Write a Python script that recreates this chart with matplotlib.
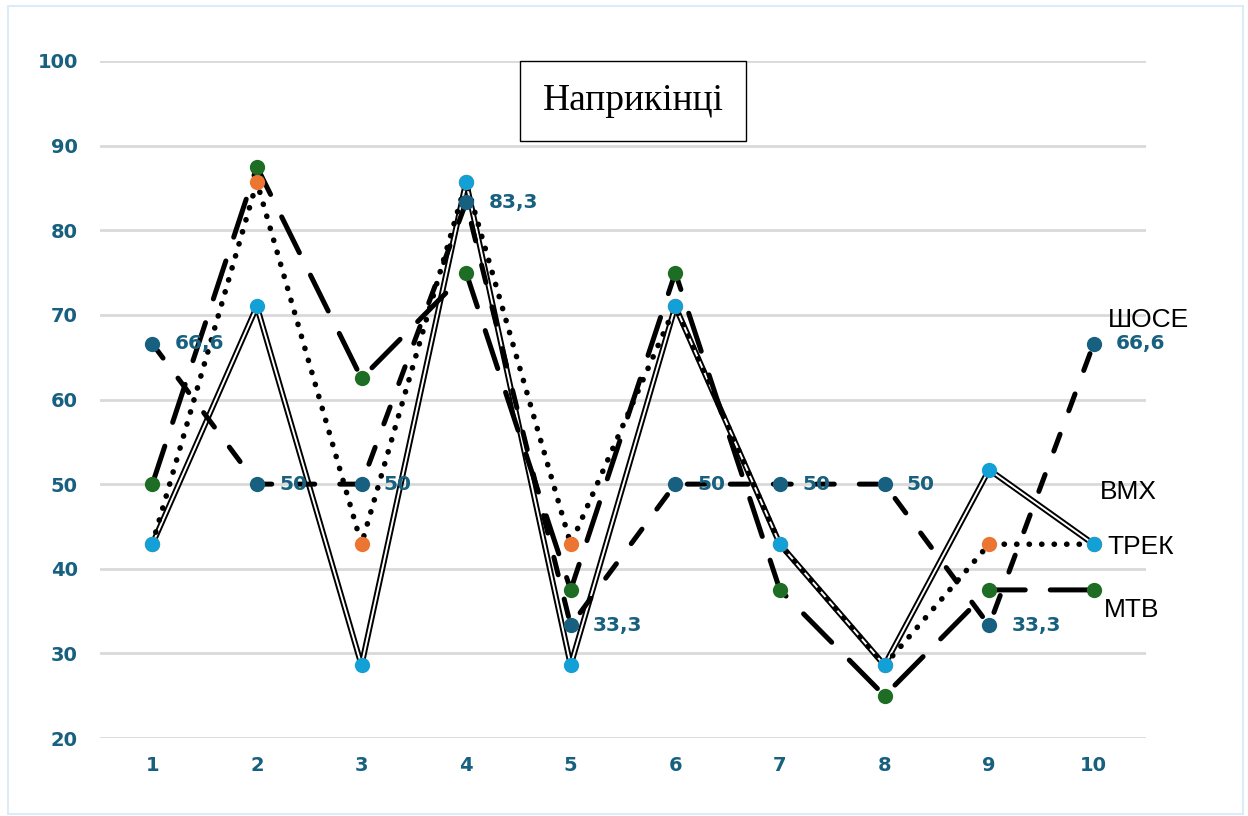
import matplotlib.pyplot as plt
from matplotlib.patches import Rectangle

# Дані з діаграми "Наприкінці"
x = [1, 2, 3, 4, 5, 6, 7, 8, 9, 10]
shose = [66.6, 50, 50, 83.3, 33.3, 50, 50, 50, 33.3, 66.6]
bmx = [42.9, 71.0, 28.6, 85.7, 28.6, 71.0, 42.9, 28.6, 51.7, 42.9]
trek = [42.9, 85.7, 42.9, 85.7, 42.9, 71.0, 42.9, 28.6, 42.9, 42.9]
mtb = [50, 87.5, 62.5, 75, 37.5, 75, 37.5, 25, 37.5, 37.5]
shose_labels = ['66,6', '50', '50', '83,3', '33,3', '50', '50', '50', '33,3', '66,6']

dark_blue = '#17607f'
light_blue = '#12a0d7'
orange = '#ec7532'
green = '#1d6d24'

fig = plt.figure(figsize=(12.48, 8.16), dpi=100)
ax = fig.add_axes([100 / 1248, 1 - 738 / 816, 1046 / 1248, 677 / 816])

# рамка навколо всієї діаграми
fig.patches.append(Rectangle((8 / 1248, 2 / 816), 1235 / 1248, 808 / 816,
                             transform=fig.transFigure, fill=False,
                             edgecolor='#dcebf5', linewidth=1.5))

ms = 11

# ВМХ - подвійна лінія
ax.plot(x, bmx, color='black', linewidth=4.2, zorder=2)
ax.plot(x, bmx, color='white', linewidth=1.4, zorder=2.1)

# ТРЕК - пунктир з крапок
ax.plot(x, trek, color='black', linewidth=4.0, linestyle=(0, (0.05, 2.2)),
        dash_capstyle='round', zorder=2.2)

# МТВ - довгі штрихи
ax.plot(x, mtb, color='black', linewidth=3.6, linestyle=(0, (8, 5)),
        dash_capstyle='round', zorder=2.3)

# ШОСЕ - штрихи
ax.plot(x, shose, color='black', linewidth=3.6, linestyle=(0, (3.6, 5)),
        dash_capstyle='round', zorder=2.4)

ax.plot(x, shose, linestyle='none', marker='o', markersize=ms, color=dark_blue,
        markeredgewidth=0, zorder=3)
ax.plot(x, mtb, linestyle='none', marker='o', markersize=ms, color=green,
        markeredgewidth=0, zorder=3.1)
ax.plot(x, trek, linestyle='none', marker='o', markersize=ms, color=orange,
        markeredgewidth=0, zorder=3.0)
ax.plot(x, bmx, linestyle='none', marker='o', markersize=ms, color=light_blue,
        markeredgewidth=0, zorder=3.2)

for xi, yi, lab in zip(x, shose, shose_labels):
    ax.annotate(lab, (xi, yi), xytext=(16, 0), textcoords='offset points',
                va='center', ha='left', fontsize=14.5, fontweight='bold',
                color=dark_blue, family='DejaVu Sans', zorder=4)

# назви серій
name_font = dict(fontsize=19, color='black', family='Liberation Sans',
                 va='center', ha='left', zorder=4)
ax.text(10.14, 69.4, 'ШОСЕ', **name_font)
ax.text(10.06, 49.1, 'ВМХ', **name_font)
ax.text(10.13, 42.6, 'ТРЕК', **name_font)
ax.text(10.1, 35.1, 'МТВ', **name_font)

ax.set_xlim(0.5, 10.5)
ax.set_ylim(20, 100)
ax.set_xticks(x)
ax.set_yticks(range(20, 101, 10))
ax.grid(axis='y', color='#d9d9d9', linewidth=2)
ax.set_axisbelow(True)
for s in ax.spines.values():
    s.set_visible(False)
ax.tick_params(length=0, labelsize=14, labelcolor=dark_blue, pad=13)
ax.tick_params(axis='y', pad=16)
for lab in ax.get_xticklabels() + ax.get_yticklabels():
    lab.set_fontweight('bold')
    lab.set_family('DejaVu Sans')

# заголовок у рамці
fig.text(633 / 1248, 1 - 101 / 816, 'Наприкінці', ha='center', va='center',
         fontsize=27, family='Liberation Serif', color='black',
         bbox=dict(boxstyle='square,pad=0.6', facecolor='white',
                   edgecolor='black', linewidth=1))

fig.savefig('out.png', dpi=100)
